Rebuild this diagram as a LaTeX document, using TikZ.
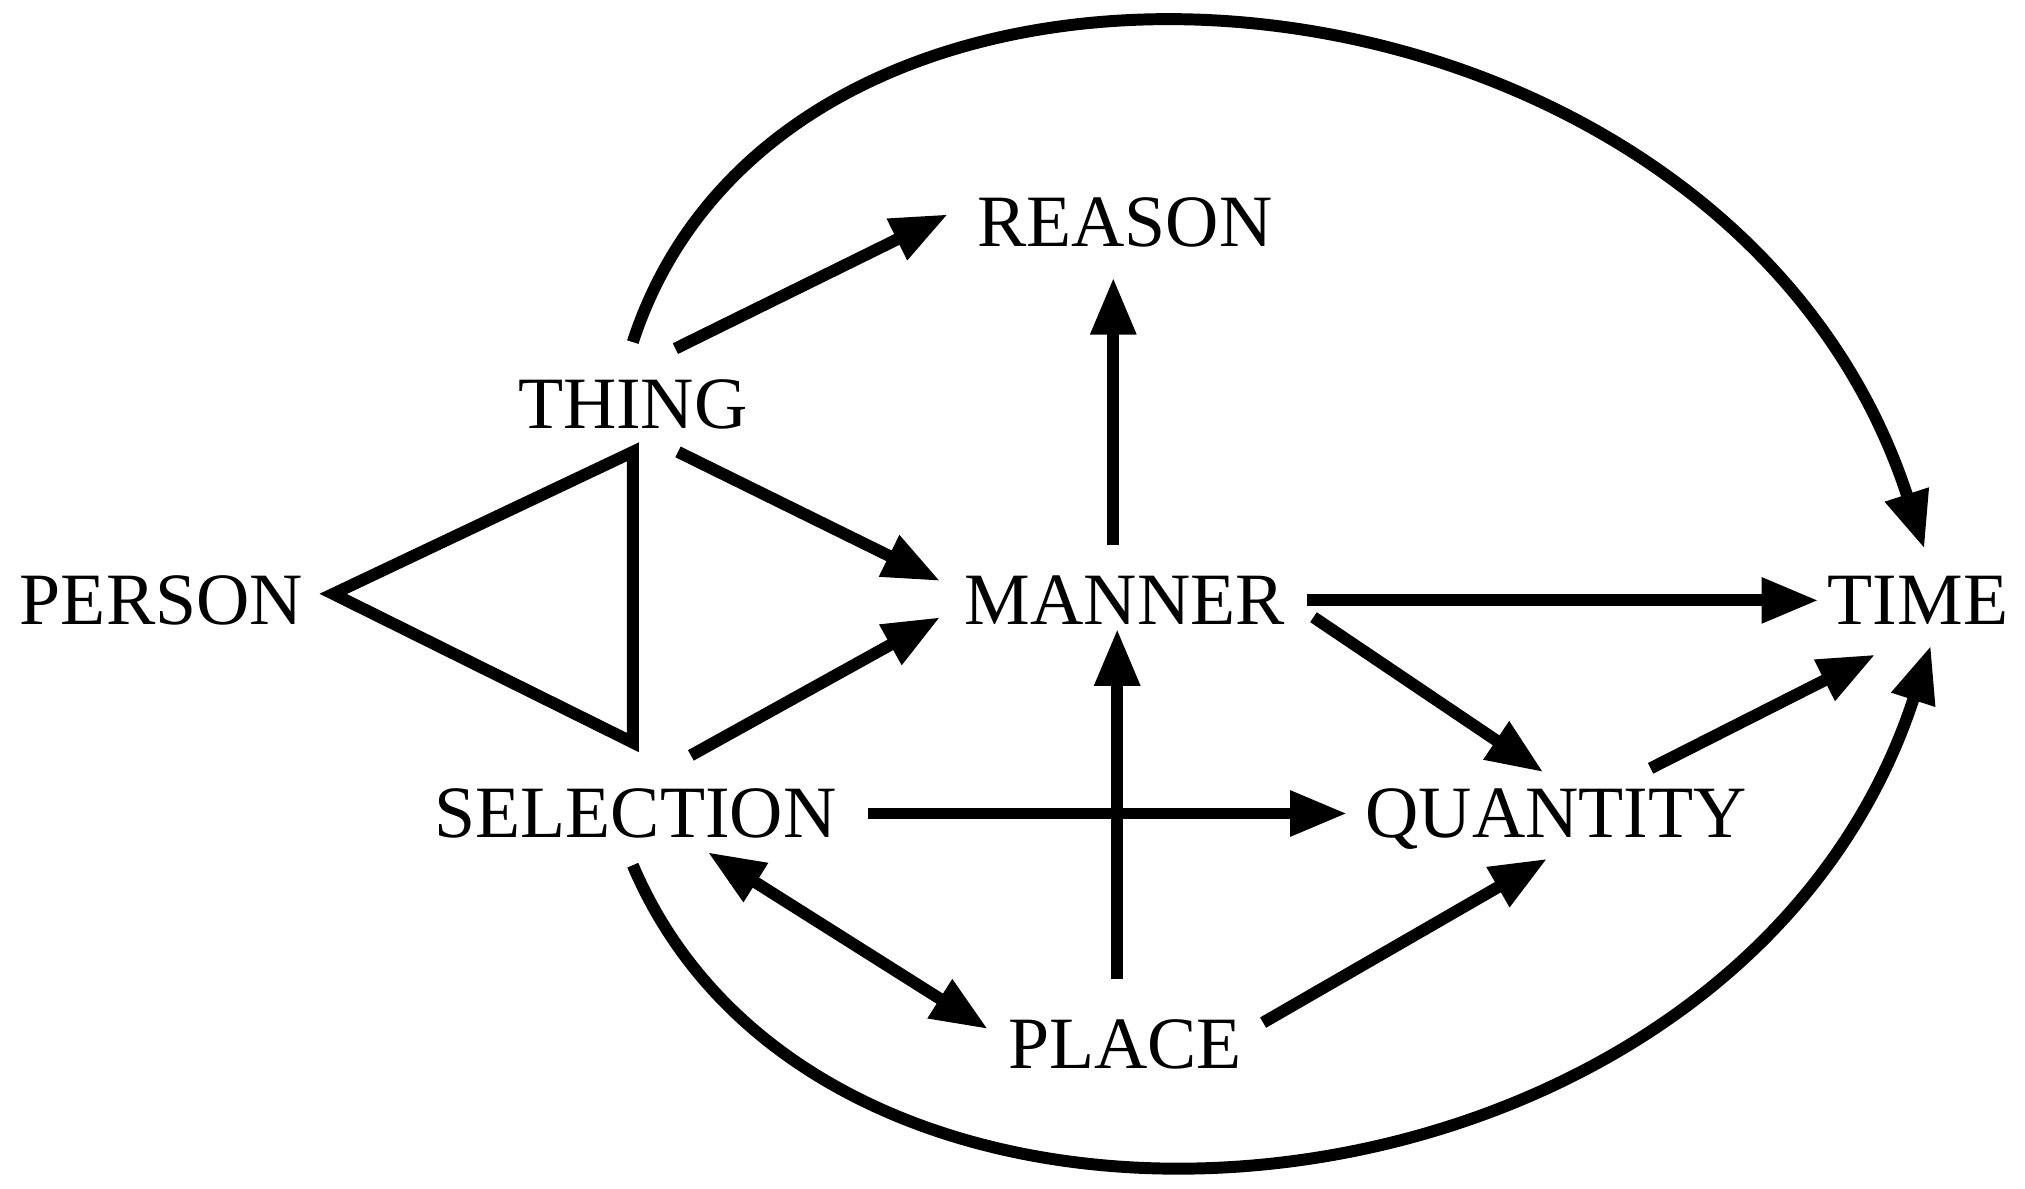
\documentclass[tikz,border=0pt]{standalone}
\usepackage{fontspec}
\setmainfont{Liberation Serif}
\usetikzlibrary{positioning,arrows.meta}

\begin{document}
\begin{tikzpicture}[
    font=\fontsize{21}{25}\selectfont,
    >={Triangle[length=5.7mm,width=4.3mm]},
    word/.style={inner sep=0pt, text height=13.8pt, text depth=0pt},
    link/.style={->, line width=3.4pt},
    edge/.style={line width=3.4pt, line join=miter},
    on grid,
  ]
    \useasboundingbox (0,0) rectangle (20.25,11.88);

    \node[word] (manner) at (11.249,5.876) {MANNER};
    \node[word, above=3.784cm of manner] (reason) {REASON};
    \node[word, below=4.442cm of manner] (place) {PLACE};
    \node[word, right=7.93cm of manner] (time) {TIME};
    \node[word, left=9.635cm of manner] (person) {PERSON};
    \node[word, above left=1.963cm and 4.921cm of manner] (thing) {THING};
    \node[word, below left=2.131cm and 4.895cm of manner] (selection) {SELECTION};
    \node[word, below right=2.131cm and 4.314cm of manner] (quantity) {QUANTITY};

    % triangle person / thing / selection
    \draw[edge] ([shift={(1.718,0.065)}]person.center) -- ([shift={(0,-0.478)}]thing.center)
      -- ([shift={(-0.026,0.710)}]selection.center) -- cycle;

    \draw[link] ([shift={(0.426,0.555)}]thing.center) -- ([shift={(-1.769,0.077)}]reason.center);
    \draw[link] ([shift={(0.452,-0.478)}]thing.center) -- ([shift={(-1.847,0.194)}]manner.center);
    \draw[link] ([shift={(-0.116,0.555)}]manner.center) -- ([shift={(-0.116,-0.555)}]reason.center);
    \draw[link] ([shift={(1.821,0)}]manner.center) -- ([shift={(-0.994,0)}]time.center);
    \draw[link] ([shift={(1.886,-0.168)}]manner.center) -- ([shift={(-0.129,0.413)}]quantity.center);
    \draw[link] ([shift={(0.943,0.452)}]quantity.center) -- ([shift={(-0.426,-0.542)}]time.center);
    \draw[link] ([shift={(0.555,0.581)}]selection.center) -- ([shift={(-1.847,-0.168)}]manner.center);
    \draw[link] ([shift={(2.325,0)}]selection.center) -- ([shift={(-2.092,0)}]quantity.center);
    \draw[link] ([shift={(-0.077,0.659)}]place.center) -- ([shift={(-0.077,-0.284)}]manner.center);
    \draw[link, <->] ([shift={(0.723,-0.387)}]selection.center) -- ([shift={(-1.369,0.155)}]place.center);
    \draw[link] ([shift={(1.382,0.220)}]place.center) -- ([shift={(-0.090,-0.452)}]quantity.center);

    % the two long arcs into time
    \draw[link] ([shift={(0,0.620)}]thing.center) to[out=72, in=108, out distance=5.17cm, in distance=6.46cm]
      ([shift={(0.065,0.517)}]time.center);
    \draw[link] ([shift={(-0.026,-0.517)}]selection.center) to[out=-67, in=-108, out distance=5.1cm, in distance=6.3cm]
      ([shift={(0.129,-0.452)}]time.center);
\end{tikzpicture}
\end{document}
